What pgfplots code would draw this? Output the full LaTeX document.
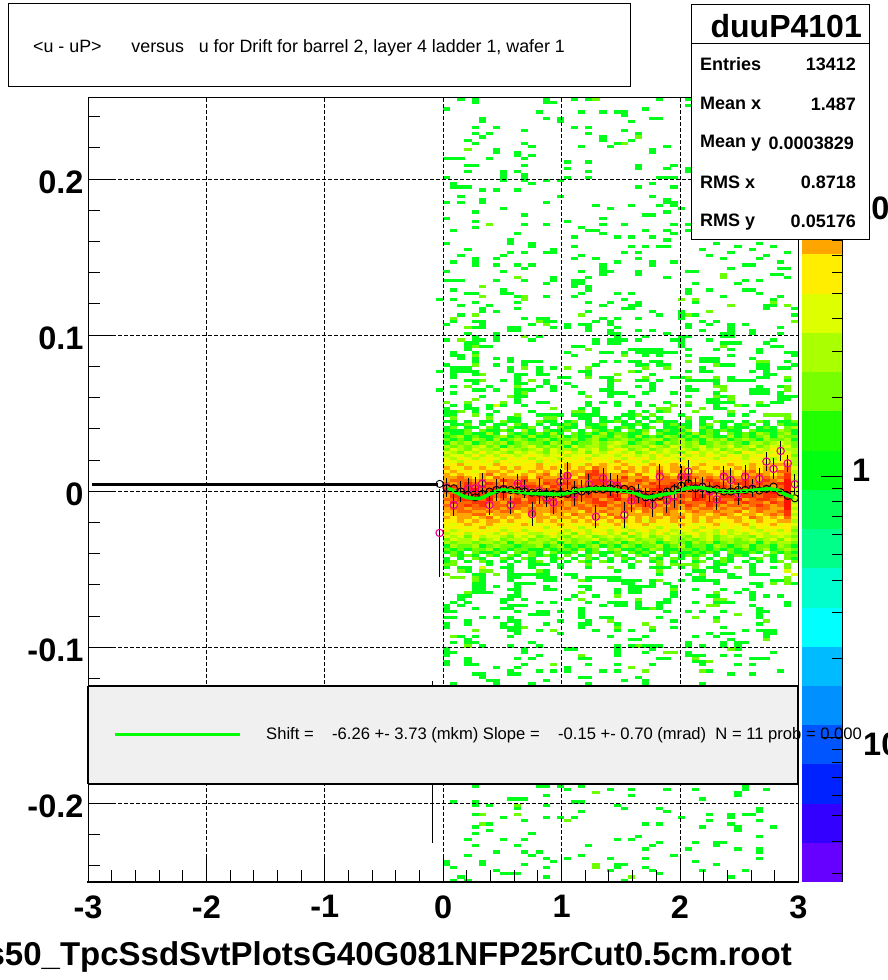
\documentclass[border=0pt]{standalone}
\usepackage{pgfplots}
\usepackage{pgfplotstable}
\usepackage{fontspec}
\setmainfont{Liberation Sans}
\pgfplotsset{compat=1.18}
\definecolor{cA}{HTML}{00FF1A}
\definecolor{cB}{HTML}{6CFF00}
\definecolor{cC}{HTML}{AAFF00}
\definecolor{cD}{HTML}{DDFF00}
\definecolor{cE}{HTML}{FFEE00}
\definecolor{cF}{HTML}{FFA500}
\definecolor{cG}{HTML}{FF6600}
\definecolor{cH}{HTML}{FF3300}
\definecolor{cI}{HTML}{FF1100}
\definecolor{pave}{HTML}{F0F0F0}
\definecolor{fitgreen}{HTML}{00FF00}
\pgfdeclareplotmark{cell}{\pgfpathrectangle{\pgfpoint{-3.6pt}{-1.6pt}}{\pgfpoint{7.2pt}{3.2pt}}\pgfusepathqfill}
\newcommand\tfont{\fontsize{32.5}{32.5}\selectfont\bfseries}
\newcommand\sfont{\fontsize{18}{18}\selectfont\bfseries}
% histogram core: rows n=103..148, columns 0..49, colour level of each cell
\pgfplotstableread[header=false]{
1 1 0 1 0 1 1 0 2 1 1 0 0 2 1 1 0 1 2 0 1 0 1 1 2 1 0 1 0 1 2 1 1 0 1 0 1 0 2 1 1 0 1 0 2 1 0 1 1 2
0 1 1 2 0 1 0 1 1 0 2 1 0 1 0 1 1 2 1 0 1 1 2 0 0 1 1 2 1 0 0 1 2 1 1 0 1 2 0 1 0 1 2 1 0 1 0 2 1 1
1 2 0 1 1 0 2 1 0 2 1 1 2 0 1 0 2 1 1 0 2 1 1 0 1 2 1 0 1 2 0 1 1 2 1 0 2 1 0 1 2 1 1 0 1 2 1 0 2 3
1 1 1 2 0 2 1 1 2 1 0 3 1 0 2 1 1 2 0 1 0 2 1 2 1 0 2 1 2 0 1 2 1 1 3 0 1 2 1 2 1 1 0 2 1 1 1 3 2 1
2 1 1 2 1 1 3 1 0 2 1 2 1 2 1 3 1 0 2 1 2 1 3 1 2 2 1 1 3 0 2 1 1 2 1 3 1 2 1 0 2 1 2 1 3 2 1 2 3 1
1 2 3 1 2 1 1 2 3 1 2 1 3 1 1 2 3 1 2 1 1 3 2 1 3 2 1 3 1 2 1 3 2 1 2 1 3 2 1 1 3 1 2 1 2 3 1 3 2 2
2 1 2 1 3 2 1 3 1 2 3 2 1 2 3 1 2 2 3 1 2 3 1 2 2 3 2 1 2 3 3 1 2 3 1 2 1 3 2 3 1 2 3 2 1 3 2 2 3 1
1 3 2 3 1 2 3 2 3 1 2 3 2 2 1 3 2 3 1 2 2 3 2 3 4 3 1 2 3 2 1 3 2 3 2 3 1 2 3 2 3 2 1 3 3 2 3 4 3 2
3 2 3 2 3 4 2 3 1 3 2 3 4 2 3 2 3 1 4 2 3 3 2 4 3 2 3 3 2 4 3 2 4 3 2 3 4 2 3 3 4 2 3 4 2 3 4 3 4 2
2 4 3 2 4 3 3 2 4 3 3 2 3 4 2 4 3 3 2 4 3 4 2 3 5 4 2 3 4 2 3 4 3 4 3 2 4 3 4 2 3 4 3 2 4 3 5 4 3 3
4 3 2 4 3 5 3 4 3 2 4 3 4 3 2 4 3 5 3 4 2 4 3 5 4 3 4 2 3 5 3 4 3 2 4 5 3 4 3 4 3 2 5 4 3 4 4 5 4 3
3 4 4 3 5 3 4 3 5 4 3 4 5 4 3 4 5 3 4 4 5 3 4 4 3 5 4 3 4 3 5 3 4 5 3 4 3 5 4 3 5 4 3 4 5 4 5 4 5 2
4 3 5 4 3 4 5 4 3 5 4 5 3 4 5 4 3 5 4 5 3 5 4 5 4 3 5 4 5 3 4 5 4 3 5 4 5 4 3 5 4 5 3 5 4 5 3 5 4 3
5 4 3 5 5 4 5 3 5 4 5 4 5 3 5 4 5 4 5 5 4 5 5 4 6 5 4 5 3 5 5 4 5 5 4 5 4 5 5 4 5 5 4 5 5 5 4 5 5 3
4 5 6 4 5 5 4 6 5 5 4 5 5 6 4 5 5 6 5 4 6 5 6 5 5 6 5 4 5 6 5 5 6 5 4 5 6 5 5 5 6 5 4 6 5 5 6 6 6 3
6 5 4 6 5 6 5 5 6 4 6 5 5 6 5 6 4 6 5 6 5 7 6 5 6 5 6 5 6 5 6 5 6 6 5 6 5 5 6 5 5 6 5 6 5 6 5 5 7 4
5 6 5 5 4 5 6 6 5 6 5 4 6 5 6 5 5 5 6 6 7 8 6 5 5 7 6 5 6 4 7 5 6 6 5 5 6 5 5 6 6 5 6 7 5 6 5 7 7 3
6 5 6 5 5 6 7 5 6 5 5 6 5 6 7 5 6 7 6 5 8 8 7 6 6 6 5 7 5 5 7 6 5 7 7 6 6 6 5 7 6 5 7 6 7 6 5 6 8 3
6 6 7 6 5 6 5 7 6 6 6 7 5 7 6 6 6 7 5 7 8 7 7 6 6 8 6 6 7 5 6 7 6 8 8 7 6 7 6 6 7 6 6 7 6 7 6 7 8 4
6 7 7 7 6 7 6 6 8 7 6 8 6 6 7 7 6 7 7 6 7 8 8 7 7 7 6 8 7 6 7 7 7 6 8 6 7 8 7 6 7 7 8 7 6 8 7 6 9 3
7 6 7 8 7 6 8 7 6 7 8 7 7 6 8 7 7 8 7 6 7 8 8 7 8 6 7 7 6 8 7 7 8 6 9 8 7 7 8 7 6 8 8 7 8 7 7 8 9 5
7 8 7 8 7 8 7 7 8 7 6 8 8 7 6 8 7 7 8 7 8 7 7 8 7 8 7 6 7 7 8 8 8 7 7 8 6 7 8 8 7 6 8 8 7 8 6 7 9 3
8 7 7 8 9 7 8 8 6 8 8 7 7 6 8 7 8 7 6 8 7 9 7 6 7 8 9 7 6 8 9 7 7 8 8 7 9 8 7 6 8 9 7 8 8 7 8 7 9 4
7 7 8 9 8 8 7 6 8 7 8 8 6 7 8 7 8 8 7 6 8 7 8 8 7 9 7 7 8 8 7 8 8 7 7 8 7 8 8 7 7 8 9 7 7 8 9 7 9 3
6 8 8 7 9 8 8 7 8 6 7 7 8 8 7 6 7 9 8 7 8 7 7 9 8 6 8 8 9 8 7 9 6 8 7 8 9 7 6 8 8 7 8 8 7 8 8 7 9 4
7 7 8 8 8 7 9 6 7 7 8 6 8 7 7 8 6 7 8 7 7 8 6 7 9 7 8 8 7 7 8 7 8 7 6 9 8 7 8 7 7 9 6 7 8 8 7 6 9 3
6 8 7 7 8 8 7 7 6 8 8 7 8 6 8 7 7 6 7 6 7 8 8 7 6 7 7 8 8 7 6 8 7 8 7 7 7 8 7 8 6 7 8 7 7 6 8 7 9 3
7 6 7 8 7 8 6 7 7 6 7 7 6 7 6 7 7 6 7 7 6 7 8 6 7 7 6 7 8 7 7 6 7 6 8 7 6 8 7 6 7 7 6 7 8 7 6 7 9 4
6 7 7 6 7 7 6 7 6 7 7 6 7 6 6 7 6 7 6 7 7 6 6 7 6 7 7 6 7 6 6 7 7 6 7 6 7 7 6 7 6 6 7 6 7 7 6 6 9 3
6 6 7 7 6 6 7 6 7 7 5 6 7 6 6 7 6 6 6 5 7 6 7 6 6 7 6 5 7 6 6 7 6 5 6 7 6 6 7 6 6 7 5 6 7 6 6 7 8 4
5 6 6 6 7 7 5 6 6 6 6 5 7 6 5 6 6 5 7 6 6 6 5 7 6 5 6 6 6 6 5 7 6 6 5 6 6 5 6 7 6 5 6 6 5 6 7 6 8 3
6 5 6 6 5 6 7 5 6 5 6 5 5 6 6 5 6 6 5 6 5 6 6 5 7 6 5 6 5 6 6 5 6 7 5 6 5 6 6 5 6 6 5 7 6 5 6 5 7 4
5 5 6 5 6 5 6 6 5 6 5 5 4 6 5 6 4 5 6 5 6 5 5 6 5 6 5 6 4 6 5 5 6 5 5 6 4 6 5 5 5 6 5 4 6 5 5 6 6 3
5 4 5 6 5 5 6 5 5 4 5 6 5 4 5 5 6 5 4 5 5 6 4 5 6 4 5 5 6 4 5 5 4 6 5 4 5 5 6 4 5 5 6 4 5 5 6 4 5 4
4 5 5 4 5 6 4 5 4 5 5 4 5 5 3 5 4 5 5 3 5 4 5 4 5 3 5 5 4 5 3 5 4 5 4 5 3 5 5 4 5 4 5 3 5 4 5 5 5 3
5 3 4 5 5 4 5 5 3 4 5 3 4 5 4 4 5 3 5 4 3 5 4 3 5 4 3 4 5 3 4 5 3 4 5 3 5 4 3 5 3 4 5 4 3 5 4 3 5 2
3 4 5 3 4 5 4 3 5 3 4 5 3 3 4 5 3 4 2 5 3 4 5 3 4 2 5 3 4 3 5 3 4 3 4 5 3 4 3 5 3 4 3 5 4 3 5 4 4 3
4 3 4 2 5 3 4 4 3 2 4 3 4 2 3 4 3 2 4 3 4 2 3 4 3 4 2 3 4 2 3 4 3 3 2 4 3 4 2 3 4 3 3 2 4 3 3 4 3 2
2 4 3 3 4 2 3 4 2 3 3 4 2 3 3 2 4 3 2 3 3 4 2 3 2 3 4 2 3 3 2 4 3 2 3 2 3 4 2 3 3 2 3 4 2 3 4 2 4 3
3 2 3 3 2 3 3 2 3 1 3 2 3 3 2 3 1 3 2 3 2 1 3 2 3 1 2 3 2 3 1 2 3 2 1 3 2 3 1 2 3 2 2 3 1 3 2 3 3 2
1 3 2 2 3 1 2 3 2 2 1 2 2 3 1 2 3 1 2 1 2 3 1 2 1 3 2 1 2 2 3 1 2 3 1 2 2 1 3 2 1 2 3 1 2 2 1 3 2 1
2 1 2 1 2 2 3 1 2 1 2 2 1 1 2 1 2 2 1 3 1 2 0 2 3 1 1 2 1 3 2 1 1 2 2 1 2 1 2 1 2 1 2 1 2 3 1 2 3 2
1 2 1 0 2 1 1 2 1 0 2 1 2 1 0 2 1 1 2 0 1 2 1 1 2 0 2 1 2 1 0 1 2 1 1 2 1 2 1 0 2 1 1 2 1 0 2 1 2 1
0 2 1 2 1 0 2 1 0 2 1 0 2 1 2 1 0 2 0 1 2 0 1 0 2 1 0 2 1 0 2 1 0 1 2 1 2 0 1 0 1 2 1 0 0 2 1 0 2 2
1 0 1 0 2 1 0 0 2 1 0 2 1 0 0 1 2 0 1 0 2 1 0 1 0 2 1 0 0 2 1 0 2 1 0 2 0 1 0 2 1 0 0 1 2 0 1 0 2 1
1 2 0 1 0 2 1 0 1 0 1 0 1 2 0 1 0 1 0 2 1 0 2 1 0 1 0 2 0 1 2 0 1 0 0 1 2 0 1 2 1 0 1 0 1 0 1 2 0 2
}\core
% isolated cells: column, row from the top
\pgfplotstableread[header=false]{
2 0
4 0
14 0
18 0
20 0
30 0
34 0
4 1
14 1
15 1
34 2
0 3
28 3
13 4
19 4
22 4
24 4
25 4
25 5
5 6
14 6
16 6
29 6
30 6
5 7
16 7
26 7
4 9
7 9
18 9
20 9
11 10
25 10
4 11
6 11
20 11
27 11
5 12
22 12
3 13
22 13
26 13
4 14
11 14
24 14
12 15
19 15
23 15
31 15
7 16
29 16
7 17
10 17
29 17
10 18
12 18
0 19
1 19
2 19
6 19
11 19
17 20
20 20
3 21
4 21
11 21
27 21
32 21
17 22
27 22
31 22
34 22
3 23
8 23
10 23
20 23
34 23
8 24
11 24
0 25
8 25
11 25
17 25
20 25
30 25
31 25
32 25
8 26
11 26
14 26
16 26
1 27
12 27
29 27
1 28
2 28
3 28
27 28
32 28
5 29
7 29
10 29
2 31
16 31
29 31
5 32
31 32
0 33
2 33
5 33
14 33
31 33
32 33
21 34
26 34
30 34
32 34
8 35
23 35
33 35
4 36
31 36
11 37
28 37
29 37
0 38
22 38
4 39
17 39
11 40
14 40
22 40
25 40
32 40
34 40
4 41
19 41
1 42
20 42
21 42
28 42
31 42
34 42
10 43
22 43
32 43
18 44
24 44
26 44
29 44
9 45
31 45
0 46
9 46
12 46
38 46
44 46
12 47
18 47
26 47
28 47
30 47
31 47
41 47
46 47
3 48
15 48
36 48
43 48
9 49
11 49
14 49
15 49
25 49
27 49
40 49
48 49
2 50
8 50
19 50
37 50
45 50
4 51
7 51
18 51
21 51
27 51
39 51
44 51
1 52
4 52
24 52
29 52
32 52
47 52
4 53
7 53
10 53
12 53
22 53
29 53
42 53
43 53
11 54
22 54
40 54
47 54
48 54
0 55
8 55
19 55
22 55
23 55
27 55
34 55
35 55
22 56
27 56
46 56
47 56
15 57
20 57
31 57
48 57
0 58
1 58
2 58
7 58
11 58
15 58
18 58
19 58
42 58
44 58
14 59
18 59
19 59
35 59
41 59
18 60
20 60
1 61
8 61
20 61
34 61
37 61
42 61
43 61
3 62
4 62
8 62
9 62
19 62
24 62
26 62
34 62
44 62
10 63
14 63
18 63
39 63
47 63
-1 64
1 64
25 64
46 64
4 65
10 65
20 65
23 65
27 65
35 65
2 66
6 66
22 66
26 66
27 66
45 66
46 66
5 67
10 67
25 67
26 67
45 67
49 67
5 68
7 68
20 68
29 68
33 68
2 69
30 69
33 69
35 69
49 69
11 70
13 70
14 70
22 70
24 70
27 70
33 70
1 71
4 71
5 71
14 71
15 71
21 71
23 71
36 71
38 71
0 72
5 72
12 72
17 72
19 72
20 72
23 72
34 72
37 72
40 72
42 72
4 73
5 73
9 73
10 73
15 73
17 73
20 73
24 73
34 73
40 73
47 73
9 74
10 74
20 74
23 74
27 74
29 74
36 74
40 74
43 74
3 75
7 75
23 75
24 75
31 75
39 75
40 75
43 75
47 75
4 76
7 76
13 76
24 76
28 76
33 76
34 76
39 76
40 76
0 77
4 77
5 77
7 77
12 77
21 77
23 77
24 77
25 77
27 77
32 77
33 77
37 77
46 77
3 78
4 78
21 78
23 78
24 78
33 78
39 78
40 78
41 78
45 78
3 79
5 79
6 79
18 79
19 79
33 79
46 79
47 79
3 80
26 80
27 80
28 80
29 80
30 80
34 80
38 80
40 80
44 80
1 81
4 81
17 81
22 81
23 81
25 81
27 81
28 81
29 81
30 81
31 81
32 81
44 81
48 81
49 81
1 82
2 82
18 82
28 82
30 82
34 82
40 82
49 82
2 83
4 83
7 83
9 83
36 83
37 83
38 83
43 83
4 84
9 84
11 84
12 84
13 84
22 84
24 84
26 84
27 84
29 84
30 84
36 84
37 84
38 84
48 84
0 85
7 85
11 85
21 85
27 85
28 85
30 85
31 85
39 85
40 85
44 85
45 85
49 85
1 86
2 86
3 86
9 86
13 86
15 86
36 86
44 86
45 86
47 86
48 86
-1 87
1 87
2 87
3 87
4 87
9 87
13 87
19 87
20 87
27 87
34 87
36 87
37 87
43 87
45 87
1 88
4 88
10 88
11 88
13 88
14 88
20 88
29 88
45 88
46 88
1 89
10 89
16 89
17 89
22 89
23 89
32 89
33 89
40 89
44 89
45 89
3 90
4 90
8 90
10 90
14 90
23 90
27 90
28 90
30 90
34 90
35 90
36 90
37 90
38 90
40 90
41 90
42 90
43 90
48 90
4 91
10 91
11 91
14 91
17 91
23 91
29 91
38 91
1 92
6 92
13 92
15 92
18 92
23 92
27 92
29 92
34 92
44 92
47 92
-1 93
4 93
5 93
7 93
10 93
11 93
12 93
15 93
22 93
23 93
29 93
34 93
35 93
43 93
44 93
45 93
1 94
10 94
19 94
23 94
24 94
25 94
28 94
32 94
38 94
43 94
44 94
45 94
47 94
5 95
10 95
11 95
23 95
26 95
34 95
39 95
47 95
48 95
49 95
10 96
37 96
38 96
47 96
48 96
10 97
13 97
14 97
20 97
22 97
24 97
27 97
31 97
37 97
38 97
39 97
40 97
46 97
47 97
1 98
3 98
6 98
8 98
11 98
20 98
24 98
27 98
29 98
34 98
38 98
42 98
44 98
45 98
0 99
3 99
4 99
6 99
19 99
21 99
38 99
39 99
0 100
1 100
4 100
7 100
12 100
21 100
26 100
28 100
30 100
43 100
0 101
1 101
6 101
13 101
14 101
15 101
16 101
18 101
19 101
20 101
21 101
25 101
26 101
33 101
40 101
42 101
9 102
10 102
19 102
20 102
22 102
24 102
26 102
28 102
30 102
36 102
37 102
6 149
9 149
12 149
13 149
14 149
16 149
26 149
38 149
39 149
43 149
0 150
2 150
3 150
8 150
9 150
12 150
16 150
20 150
26 150
29 150
30 150
31 150
33 150
37 150
38 150
43 150
46 150
3 151
9 151
14 151
24 151
35 151
36 151
38 151
39 151
43 151
4 152
5 152
9 152
10 152
11 152
12 152
13 152
14 152
17 152
18 152
30 152
34 152
40 152
43 152
44 152
45 152
5 153
9 153
10 153
13 153
14 153
15 153
18 153
20 153
21 153
22 153
23 153
24 153
35 153
36 153
40 153
41 153
5 154
9 154
14 154
15 154
20 154
23 154
24 154
25 154
26 154
27 154
29 154
33 154
35 154
36 154
37 154
38 154
46 154
47 154
4 155
5 155
10 155
11 155
12 155
25 155
26 155
29 155
31 155
38 155
43 155
44 155
49 155
4 156
5 156
7 156
10 156
14 156
19 156
20 156
26 156
27 156
28 156
29 156
32 156
44 156
4 157
5 157
9 157
10 157
14 157
15 157
20 157
24 157
26 157
27 157
35 157
39 157
42 157
4 158
5 158
6 158
10 158
24 158
26 158
27 158
32 158
41 158
43 158
2 159
3 159
9 159
10 159
18 159
21 159
32 159
37 159
38 159
43 159
45 159
47 159
2 160
8 160
9 160
11 160
17 160
31 160
43 160
1 161
3 161
8 161
13 161
15 161
20 161
23 161
24 161
25 161
27 161
30 161
31 161
35 161
38 161
39 161
40 161
48 161
0 162
2 162
9 162
10 162
11 162
22 162
24 162
25 162
27 162
30 162
43 162
48 162
0 163
4 163
8 163
9 163
19 163
27 163
28 163
30 163
44 163
0 164
1 164
10 164
13 164
14 164
16 164
19 164
31 164
34 164
36 164
39 164
44 164
45 164
12 165
13 165
14 165
19 165
44 165
0 166
1 166
5 166
7 166
9 166
19 166
22 166
23 166
30 166
38 166
44 166
3 167
9 167
10 167
16 167
20 167
32 167
0 168
3 168
8 168
10 168
14 168
19 168
20 168
24 168
44 168
0 169
8 169
9 169
10 169
19 169
32 169
39 169
9 170
10 170
13 170
21 170
24 170
26 170
29 170
42 170
44 170
45 170
46 170
10 171
16 171
37 171
39 171
40 171
45 171
46 171
2 172
4 172
9 172
23 172
28 172
35 172
38 172
45 172
3 173
26 173
27 173
40 173
1 174
3 174
4 174
12 174
34 174
39 174
41 174
42 174
5 175
9 175
13 175
24 175
26 175
28 175
29 175
30 175
34 175
36 175
39 175
41 175
0 176
11 176
17 176
18 176
24 176
29 176
41 176
0 177
1 177
11 177
24 177
28 177
34 177
46 177
0 178
13 178
24 178
34 178
35 178
36 178
39 178
41 178
3 179
10 179
12 179
19 179
20 179
30 179
31 179
43 179
44 179
45 179
0 180
3 180
35 180
36 180
0 181
3 181
4 181
11 181
20 181
24 181
29 181
36 181
41 181
43 181
7 182
10 182
17 182
9 183
13 183
15 183
17 183
22 183
24 183
37 183
47 183
4 184
5 184
9 184
10 184
40 184
43 184
5 185
19 185
20 185
27 185
6 186
7 186
14 186
25 186
28 186
1 187
7 187
12 187
20 187
28 187
36 187
4 188
6 188
7 188
8 188
11 188
12 188
15 188
28 188
29 188
45 188
4 220
13 220
14 220
16 220
19 220
42 220
17 221
23 221
26 221
31 221
35 221
42 221
45 221
41 222
14 223
26 223
41 223
9 224
10 224
11 224
36 224
1 225
4 225
18 225
19 225
4 226
6 226
14 226
24 226
10 227
25 227
30 227
44 227
19 228
31 228
44 228
4 229
37 229
40 229
42 229
43 229
8 230
14 230
16 230
18 230
33 230
40 230
11 231
37 231
44 231
6 232
28 232
30 232
40 232
4 233
36 233
41 233
46 233
6 234
41 234
4 235
12 235
27 236
44 236
3 237
8 237
11 237
24 237
26 237
30 238
35 238
38 238
39 238
4 239
10 239
20 239
29 239
38 239
28 240
34 240
41 240
44 240
7 241
11 241
13 241
44 241
3 242
12 242
19 242
32 242
14 243
17 243
23 243
28 243
44 243
0 244
5 244
15 244
35 244
0 245
5 245
11 245
24 245
25 245
38 245
1 246
14 246
21 246
24 246
28 246
7 247
23 247
29 247
36 247
42 247
8 248
9 248
10 248
30 248
2 249
14 249
40 249
1 250
3 250
25 250
}\greencells
\pgfplotstableread[header=false]{
21 0
27 12
25 14
3 16
6 40
39 56
10 57
39 57
5 60
5 63
11 63
11 64
33 64
35 64
46 65
40 66
48 66
37 68
4 69
19 69
34 69
1 70
13 71
49 71
14 72
3 73
11 76
2 77
4 79
39 79
20 80
4 82
25 82
34 84
44 84
45 84
4 85
38 85
11 86
17 86
20 86
28 86
31 86
26 87
5 88
24 88
20 89
28 89
34 89
38 89
48 89
5 90
12 90
24 90
3 92
10 92
38 92
39 92
48 92
39 93
48 93
11 94
9 95
20 95
38 95
40 95
4 96
40 96
0 97
3 97
8 97
34 97
44 97
32 98
41 98
15 99
30 99
31 99
36 99
2 100
18 100
19 100
31 100
35 100
40 100
4 101
10 101
27 101
29 101
45 101
46 101
47 101
48 101
1 102
6 102
14 102
15 102
34 102
48 102
0 149
1 149
20 149
30 149
32 149
33 149
34 149
35 149
48 149
23 150
35 150
41 150
48 150
2 151
5 151
6 151
13 151
30 151
0 152
7 152
36 152
1 153
2 153
4 153
48 153
4 154
19 154
30 154
48 154
46 155
48 155
32 157
3 158
19 158
38 158
24 159
19 160
27 160
38 160
39 160
37 162
38 162
29 163
41 165
35 166
23 167
38 167
45 167
28 168
11 169
24 169
29 169
4 170
15 170
1 172
45 173
3 175
27 175
40 176
31 177
32 177
19 178
35 179
37 180
15 181
26 182
28 183
36 183
23 188
21 222
10 226
5 229
10 229
17 231
5 232
21 245
21 246
26 249
}\limecells
\pgfplotstableread[header=false]{
7 98
5 150
48 151
49 152
}\yellowcells
\pgfplotstableread{
c m e b
0 0.0023 0.0059 0.0019
1 -0.0088 0.0072 0.0019
2 -0.0002 0.0067 -0.0002
3 0.0015 0.0067 -0.0024
4 0.0019 0.0075 -0.0039
5 0.0049 0.0067 -0.0017
6 -0.0088 0.0067 -0.0002
7 0.0008 0.0069 0.0008
8 0.0015 0.0069 0.0013
9 -0.0088 0.0058 0.0008
10 0.0049 0.0064 0.0004
11 0.0015 0.0059 -0.0002
12 -0.0146 0.0075 -0.0009
13 0.0002 0.0083 -0.0009
14 -0.0041 0.0062 -0.0017
15 -0.0073 0.0070 -0.0017
16 0.0062 0.0080 -0.0017
17 0.0100 0.0086 -0.0017
18 -0.0017 0.0080 0.0004
19 0.0002 0.0070 -0.0002
20 0.0045 0.0067 0.0008
21 -0.0163 0.0072 0.0013
22 0.0083 0.0067 0.0013
23 0.0045 0.0075 0.0019
24 0.0036 0.0070 0.0015
25 -0.0152 0.0086 0.0015
26 -0.0060 0.0072 0.0008
27 -0.0013 0.0061 -0.0017
28 -0.0041 0.0059 -0.0039
29 -0.0088 0.0078 -0.0039
30 0.0094 0.0078 -0.0030
31 -0.0060 0.0077 -0.0002
32 -0.0030 0.0075 0.0013
33 0.0090 0.0073 0.0036
34 0.0126 0.0073 0.0051
35 0.0019 0.0064 0.0019
36 0.0026 0.0067 0.0030
37 -0.0002 0.0064 0.0013
38 -0.0052 0.0070 0.0013
39 0.0094 0.0070 -0.0002
40 0.0072 0.0075 -0.0002
41 -0.0017 0.0072 0.0008
42 0.0094 0.0072 0.0008
43 0.0019 0.0057 0.0015
44 0.0079 0.0067 0.0004
45 0.0190 0.0059 0.0015
46 0.0143 0.0067 0.0030
47 0.0258 0.0064 -0.0007
48 0.0179 0.0053 -0.0030
49 0.0045 0.0064 -0.0045
}\prof
\begin{document}
\begin{tikzpicture}
\useasboundingbox (0pt,0pt) rectangle (887pt,980pt);
\clip (0pt,0pt) rectangle (887pt,980pt);
\begin{axis}[at={(88pt,98pt)},anchor=south west,width=710.4pt,height=784pt,scale only axis,
  xmin=-3,xmax=3,ymin=-0.2503,ymax=0.2519,axis on top,clip=true,clip marker paths=true,
  xtick={-3,-2,-1,0,1,2,3},xticklabels={-3,-2,-1,0,1,2,3},
  ytick={-0.2,-0.1,0,0.1,0.2},yticklabels={-0.2,-0.1,0,0.1,0.2},
  minor xtick={-2.8,-2.6,-2.4,-2.2,-1.8,-1.6,-1.4,-1.2,-0.8,-0.6,-0.4,-0.2,0.2,0.4,0.6,0.8,1.2,1.4,1.6,1.8,2.2,2.4,2.6,2.8},
  minor ytick={-0.24,-0.22,-0.18,-0.16,-0.14,-0.12,-0.08,-0.06,-0.04,-0.02,0.02,0.04,0.06,0.08,0.12,0.14,0.16,0.18,0.22,0.24},
  xtick pos=bottom,ytick pos=left,tick align=inside,
  major tick length=23.5pt,minor tick length=12pt,
  tick style={black,line width=1pt},
  xmajorgrids,ymajorgrids,
  grid style={black,line width=1pt,dash pattern=on 3.5pt off 2.5pt},
  axis line style={black,line width=1pt},
  xticklabel style={font=\tfont,yshift=-10pt},
  yticklabel style={font=\tfont,xshift=-1pt,yshift=-3pt},
  scatter/classes={
    0={mark=cell,fill=white,draw=none},
    1={mark=cell,fill=cA,draw=none},
    2={mark=cell,fill=cB,draw=none},
    3={mark=cell,fill=cC,draw=none},
    4={mark=cell,fill=cD,draw=none},
    5={mark=cell,fill=cE,draw=none},
    6={mark=cell,fill=cF,draw=none},
    7={mark=cell,fill=cG,draw=none},
    8={mark=cell,fill=cH,draw=none},
    9={mark=cell,fill=cI,draw=none}},
]
\pgfplotsinvokeforeach{0,...,49}{
  \addplot[scatter,only marks,scatter src=explicit symbolic]
    table[x expr={#1*0.06+0.03},y expr={0.2519-(\coordindex+103.5)*0.002},meta index=#1]{\core};
}
\addplot[only marks,mark=cell,mark options={fill=cA,draw=none}]
  table[x expr={\thisrowno{0}*0.06+0.03},y expr={0.2519-(\thisrowno{1}+0.5)*0.002}]{\greencells};
\addplot[only marks,mark=cell,mark options={fill=cB,draw=none}]
  table[x expr={\thisrowno{0}*0.06+0.03},y expr={0.2519-(\thisrowno{1}+0.5)*0.002}]{\limecells};
\addplot[only marks,mark=cell,mark options={fill=cD,draw=none}]
  table[x expr={\thisrowno{0}*0.06+0.03},y expr={0.2519-(\thisrowno{1}+0.5)*0.002}]{\yellowcells};
% empty bins on the left
\addplot[black,line width=3pt] coordinates {(-2.97,0.0042)(-0.04,0.0042)};
\addplot[only marks,mark=o,mark size=3.7pt,mark options={draw=magenta,line width=1.1pt,fill=none},
  error bars/.cd,y dir=both,y explicit,error bar style={black,line width=1pt},error mark=none]
  coordinates {(-0.03,-0.0267) +- (0,0.028) (-0.09,-0.1734) +- (0,0.0519)};
\addplot[only marks,mark=o,mark size=3.7pt,mark options={draw=magenta,line width=1.1pt,fill=none},
  error bars/.cd,y dir=both,y explicit,error bar style={black,line width=1pt},error mark=none]
  table[x expr={\thisrow{c}*0.06+0.03},y=m,y error=e]{\prof};
\addplot[only marks,mark=o,mark size=3.6pt,mark options={draw=black,line width=0.9pt,fill=none}]
  table[x expr={\thisrow{c}*0.06+0.03},y=b]{\prof};
\addplot[only marks,mark=o,mark size=3.6pt,mark options={draw=black,line width=0.9pt,fill=none}]
  coordinates {(-0.03,0.0047)};
\addplot[color=fitgreen,line width=3.6pt,smooth] coordinates {
(0.043,0.0019)(0.114,-0.0009)(0.198,-0.0039)(0.311,-0.0045)(0.395,-0.0017)(0.494,0.0008)
(0.621,-0.0002)(0.733,-0.0013)(0.874,-0.0017)(1.015,-0.0017)(1.127,0.0004)(1.240,0.0015)
(1.409,0.0015)(1.493,0.0004)(1.606,-0.0009)(1.718,-0.0039)(1.831,-0.0024)(1.944,-0.0009)
(2.056,0.0019)(2.169,0.0023)(2.281,0.0008)(2.394,-0.0002)(2.563,0.0002)(2.732,0.0015)
(2.816,0.0008)(2.901,-0.0024)(2.957,-0.0039)};
\end{axis}
% colour scale
\begin{axis}[at={(802pt,98pt)},anchor=south west,width=40.7pt,height=784pt,scale only axis,
  xmin=0,xmax=1,ymin=-1.554,ymax=1.448,axis on top,
  axis x line=none,axis y line=right,tick align=inside,
  ytick={-1,0,1},yticklabels={,,},
  minor ytick={-1.523,-1.398,-1.301,-1.222,-1.155,-1.097,-1.046,-0.699,-0.523,-0.398,-0.301,-0.222,-0.155,-0.097,-0.046,0.301,0.477,0.602,0.699,0.778,0.845,0.903,0.954},
  major tick length=22pt,minor tick length=11pt,
  tick style={black,line width=1pt},axis line style={black,line width=1pt}]
\addplot[fill={rgb,255:red,102;green,0;blue,255},draw=none] coordinates {(0,-1.554)(1,-1.554)(1,-1.404)(0,-1.404)} --cycle;
\addplot[fill={rgb,255:red,51;green,0;blue,255},draw=none] coordinates {(0,-1.404)(1,-1.404)(1,-1.254)(0,-1.254)} --cycle;
\addplot[fill={rgb,255:red,0;green,34;blue,255},draw=none] coordinates {(0,-1.254)(1,-1.254)(1,-1.103)(0,-1.103)} --cycle;
\addplot[fill={rgb,255:red,0;green,85;blue,255},draw=none] coordinates {(0,-1.103)(1,-1.103)(1,-0.953)(0,-0.953)} --cycle;
\addplot[fill={rgb,255:red,0;green,144;blue,255},draw=none] coordinates {(0,-0.953)(1,-0.953)(1,-0.803)(0,-0.803)} --cycle;
\addplot[fill={rgb,255:red,0;green,187;blue,255},draw=none] coordinates {(0,-0.803)(1,-0.803)(1,-0.653)(0,-0.653)} --cycle;
\addplot[fill={rgb,255:red,0;green,255;blue,255},draw=none] coordinates {(0,-0.653)(1,-0.653)(1,-0.503)(0,-0.503)} --cycle;
\addplot[fill={rgb,255:red,0;green,255;blue,204},draw=none] coordinates {(0,-0.503)(1,-0.503)(1,-0.352)(0,-0.352)} --cycle;
\addplot[fill={rgb,255:red,0;green,255;blue,136},draw=none] coordinates {(0,-0.352)(1,-0.352)(1,-0.202)(0,-0.202)} --cycle;
\addplot[fill={rgb,255:red,0;green,255;blue,85},draw=none] coordinates {(0,-0.202)(1,-0.202)(1,-0.052)(0,-0.052)} --cycle;
\addplot[fill={rgb,255:red,0;green,255;blue,17},draw=none] coordinates {(0,-0.052)(1,-0.052)(1,0.098)(0,0.098)} --cycle;
\addplot[fill={rgb,255:red,34;green,255;blue,0},draw=none] coordinates {(0,0.098)(1,0.098)(1,0.248)(0,0.248)} --cycle;
\addplot[fill={rgb,255:red,119;green,255;blue,0},draw=none] coordinates {(0,0.248)(1,0.248)(1,0.399)(0,0.399)} --cycle;
\addplot[fill={rgb,255:red,170;green,255;blue,0},draw=none] coordinates {(0,0.399)(1,0.399)(1,0.549)(0,0.549)} --cycle;
\addplot[fill={rgb,255:red,221;green,255;blue,0},draw=none] coordinates {(0,0.549)(1,0.549)(1,0.699)(0,0.699)} --cycle;
\addplot[fill={rgb,255:red,255;green,238;blue,0},draw=none] coordinates {(0,0.699)(1,0.699)(1,0.849)(0,0.849)} --cycle;
\addplot[fill={rgb,255:red,255;green,165;blue,0},draw=none] coordinates {(0,0.849)(1,0.849)(1,1.0)(0,1.0)} --cycle;
\end{axis}
\begin{scope}[x=1pt,y=-1pt,shift={(0pt,980pt)}]
% frame
\draw[black,line width=2pt] (87,882) -- (799,882);
% colour scale labels
\node[anchor=west,inner sep=0pt,font=\tfont] at (852,470) {1};
\node[anchor=west,inner sep=0pt,font=\tfont] at (863,744) {10};
\node[anchor=west,inner sep=0pt,font=\tfont] at (853,208) {10};
% fit box
\fill[pave] (88,686) rectangle (798,784);
\draw[black,line width=1.5pt] (88,686) -- (798,686) (88,784) -- (798,784) (88,686) -- (88,784) (798,686) -- (798,784);
\draw[draw=fitgreen,line width=3pt] (115,735) -- (240,735);
\node[anchor=west,inner sep=0pt,font=\fontsize{16.6}{16.6}\selectfont] at (266,735) {Shift =\ \ \ \ -6.26 +- 3.73 (mkm) Slope =\ \ \ \ -0.15 +- 0.70 (mrad)\ \ N = 11 prob = 0.000};
% title box
\draw[black,line width=1pt,fill=white] (8,4) rectangle (630,87);
\node[anchor=west,inner sep=0pt,font=\fontsize{17.85}{17.85}\selectfont] at (33,48) {<u - uP>\ \ \ \ \ \ versus\ \ \ u for Drift for barrel 2, layer 4 ladder 1, wafer 1};
% statistics box
\draw[black,line width=1pt,fill=white] (691.5,4.5) rectangle (869.5,240);
\draw[black,line width=1pt] (691.5,44) -- (869.5,44);
\node[anchor=base east,inner sep=0pt,font=\fontsize{32}{32}\selectfont\bfseries] at (862,37.5) {duuP4101};
\node[anchor=base west,inner sep=0pt,font=\sfont] at (700,70.7) {Entries};
\node[anchor=base west,inner sep=0pt,font=\sfont] at (700,110) {Mean x};
\node[anchor=base west,inner sep=0pt,font=\sfont] at (700,147.7) {Mean y};
\node[anchor=base west,inner sep=0pt,font=\sfont] at (700,189) {RMS x};
\node[anchor=base west,inner sep=0pt,font=\sfont] at (700,226.7) {RMS y};
\node[anchor=base east,inner sep=0pt,font=\sfont] at (856,70.7) {13412};
\node[anchor=base east,inner sep=0pt,font=\sfont] at (856,110.3) {1.487};
\node[anchor=base east,inner sep=0pt,font=\sfont] at (854,149.3) {0.0003829};
\node[anchor=base east,inner sep=0pt,font=\sfont] at (856,189) {0.8718};
\node[anchor=base east,inner sep=0pt,font=\sfont] at (856,227.3) {0.05176};
% file name
\node[anchor=east,inner sep=0pt,font=\fontsize{33}{33}\selectfont\bfseries] at (792,957) {s50\_TpcSsdSvtPlotsG40G081NFP25rCut0.5cm.root};
\end{scope}
\end{tikzpicture}
\end{document}
